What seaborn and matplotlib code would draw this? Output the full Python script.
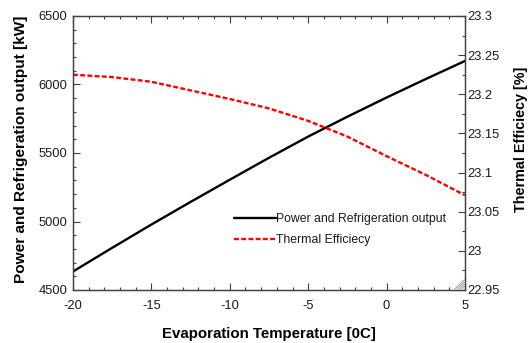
import matplotlib
matplotlib.use("Agg")
import matplotlib.pyplot as plt
from matplotlib.ticker import MultipleLocator
from matplotlib.lines import Line2D
import seaborn as sns
import pandas as pd

# Evaporation temperature sweep [0C]
evap_temp = [-20, -17.5, -15, -12.5, -10, -7.5, -5, -2.5, 0, 2.5, 5]
# Combined power and refrigeration output [kW]
power_output = [4635, 4808, 4978, 5143, 5305, 5465, 5620, 5765, 5905, 6040, 6172]
# Thermal efficiency [%]
thermal_eff = [23.225, 23.222, 23.216, 23.205, 23.194, 23.182, 23.166, 23.146, 23.121, 23.097, 23.071]

x_ticks = [-20, -15, -10, -5, 0, 5]

df = pd.DataFrame({"T": evap_temp, "P": power_output, "E": thermal_eff})

sns.set_style("white")
plt.rcParams["font.family"] = ["Liberation Sans", "DejaVu Sans"]
plt.rcParams["axes.unicode_minus"] = False
plt.rcParams["lines.scale_dashes"] = False

DASH = [3.5, 1.7]
LW = 1.7

fig = plt.figure(figsize=(5.31, 3.43), dpi=100)
ax = fig.add_axes([73 / 531, 1 - 290 / 343, (465 - 73) / 531, (290 - 16) / 343])
ax2 = ax.twinx()

sns.lineplot(data=df, x="T", y="P", ax=ax, color="black", linewidth=LW)
sns.lineplot(data=df, x="T", y="E", ax=ax2, color="#ff0000", linewidth=LW)
ax2.lines[0].set_dashes(DASH)

ax.set_xlim(-20, 5)
ax.set_ylim(4500, 6500)
ax2.set_ylim(22.95, 23.3)

edge = "#404040"
for a in (ax, ax2):
    for s in a.spines.values():
        s.set_color(edge)
        s.set_linewidth(0.9)

ax.set_xticks(x_ticks)
ax.xaxis.set_minor_locator(MultipleLocator(1))
ax.yaxis.set_major_locator(MultipleLocator(500))
ax.yaxis.set_minor_locator(MultipleLocator(100))
ax2.yaxis.set_major_locator(MultipleLocator(0.05))
ax2.yaxis.set_minor_locator(MultipleLocator(0.025))
ax2.yaxis.set_major_formatter(
    plt.FuncFormatter(lambda v, p: ("%.2f" % v).rstrip("0").rstrip("."))
)

lab_col = "#1a1a1a"
ax.tick_params(axis="x", which="both", direction="in", top=True, bottom=True,
               color=edge, labelsize=9.3, labelcolor=lab_col, pad=7)
ax.tick_params(axis="x", which="major", length=5, width=0.8)
ax.tick_params(axis="x", which="minor", length=2.5, width=0.8)
ax.tick_params(axis="y", which="both", direction="in", left=True, right=False,
               color=edge, labelsize=9.3, labelcolor=lab_col, pad=4)
ax.tick_params(axis="y", which="major", length=5, width=0.8)
ax.tick_params(axis="y", which="minor", length=2.5, width=0.8)
ax2.tick_params(axis="y", which="both", direction="in", right=True,
                color=edge, labelsize=9.3, labelcolor=lab_col, pad=2)
ax2.tick_params(axis="y", which="major", length=5, width=0.8)
ax2.tick_params(axis="y", which="minor", length=2.5, width=0.8)

ax.set_xlabel("Evaporation Temperature [0C]", fontsize=10.8, fontweight="bold",
              labelpad=11, color="black")
ax.set_ylabel("Power and Refrigeration output [kW]", fontsize=11.1, fontweight="bold",
              color="black")
ax2.set_ylabel("Thermal Efficiecy [%]", fontsize=10.4, fontweight="bold",
               color="black")
ax.yaxis.set_label_coords((28 - 73) / 392, (290 - 149) / 274)
ax2.yaxis.set_label_coords((514 - 73) / 392, (290 - 139) / 274)

handles = [
    Line2D([], [], color="black", linewidth=LW),
    Line2D([], [], color="#ff0000", linewidth=LW, dashes=DASH),
]
labels = ["Power and Refrigeration output", "Thermal Efficiecy"]
ax2.legend(handles, labels, loc="upper left", bbox_to_anchor=(228 / 531, 1 - 207 / 343),
           bbox_transform=fig.transFigure, frameon=False, fontsize=8.8,
           labelcolor="#1a1a1a", handlelength=3.4, handletextpad=0.05,
           labelspacing=0.75, borderpad=0)

# small resize grip in the lower right corner
for k in range(4):
    d = 0.006 + k * 0.006
    ax.plot([1 - d - 0.002, 1 - 0.002], [0.004, 0.004 + d * 392 / 274 * 0.95],
            transform=ax.transAxes, color="#a0a0a0", linewidth=0.7, clip_on=False)

fig.savefig("out.png", dpi=100)
